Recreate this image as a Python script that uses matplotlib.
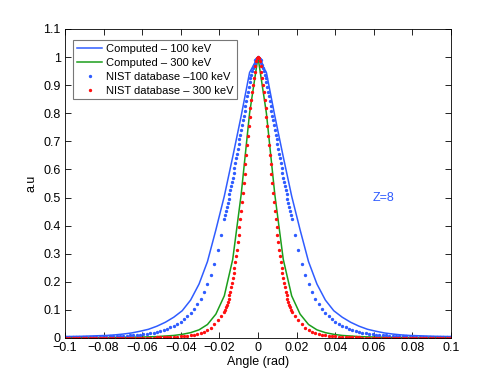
"""Angular distribution: computed vs NIST, Z=8."""

import numpy as np
import matplotlib

matplotlib.use("Agg")
import matplotlib.pyplot as plt

plt.rcParams["font.family"] = ["Liberation Sans", "DejaVu Sans"]

# computed curves, sampled every 0.25 deg (positive side, degrees)
calc_deg = [0.0, 0.25, 0.5, 0.75, 1.0, 1.25, 1.5, 1.75, 2.0, 2.25, 2.5, 2.75,
            3.0, 3.25, 3.5, 3.75, 4.0, 4.25, 4.5, 4.75, 5.0, 5.25, 5.5, 5.75]
calc_100 = [1.000, 0.945, 0.790, 0.645, 0.505, 0.385, 0.272, 0.192, 0.135,
            0.097, 0.074, 0.056, 0.042, 0.031, 0.024, 0.018, 0.014, 0.011,
            0.009, 0.008, 0.007, 0.006, 0.0055, 0.005]
calc_300 = [1.000, 0.800, 0.510, 0.280, 0.150, 0.085, 0.048, 0.029, 0.019,
            0.013, 0.009, 0.007, 0.005, 0.004, 0.0033, 0.0028, 0.0024, 0.002,
            0.0018, 0.0016, 0.0014, 0.0013, 0.0012, 0.0011]

# NIST points: 0.025 deg steps up to 1 deg, then 0.1 deg steps
nist_deg = [0.0, 0.025, 0.05, 0.075, 0.1, 0.125, 0.15, 0.175, 0.2, 0.225,
            0.25, 0.275, 0.3, 0.325, 0.35, 0.375, 0.4, 0.425, 0.45, 0.475,
            0.5, 0.525, 0.55, 0.575, 0.6, 0.625, 0.65, 0.675, 0.7, 0.725,
            0.75, 0.775, 0.8, 0.825, 0.85, 0.875, 0.9, 0.925, 0.95, 0.975,
            1.0, 1.1, 1.2, 1.3, 1.4, 1.5, 1.6, 1.7, 1.8, 1.9, 2.0, 2.1, 2.2,
            2.3, 2.4, 2.5, 2.6, 2.7, 2.8, 2.9, 3.0, 3.1, 3.2, 3.3, 3.4, 3.5,
            3.6, 3.7, 3.8, 3.9, 4.0, 4.1, 4.2, 4.3, 4.4, 4.5, 4.6, 4.7, 4.8,
            4.9, 5.0, 5.1, 5.2, 5.3, 5.4, 5.5, 5.6, 5.7]
nist_100 = [1.000, 0.998, 0.994, 0.988, 0.980, 0.971, 0.961, 0.950, 0.938,
            0.925, 0.911, 0.894, 0.877, 0.860, 0.843, 0.826, 0.809, 0.792,
            0.775, 0.758, 0.741, 0.724, 0.707, 0.690, 0.673, 0.656, 0.639,
            0.622, 0.605, 0.588, 0.571, 0.556, 0.541, 0.526, 0.511, 0.496,
            0.481, 0.466, 0.452, 0.438, 0.424,
            0.365, 0.312, 0.265, 0.226, 0.192, 0.164, 0.140, 0.120, 0.103,
            0.089, 0.077, 0.066, 0.057, 0.050, 0.044, 0.038, 0.033, 0.029,
            0.025, 0.022, 0.019, 0.017, 0.015, 0.013, 0.012, 0.011, 0.010,
            0.009, 0.008, 0.0075, 0.007, 0.0065, 0.006, 0.0055, 0.005,
            0.0047, 0.0044, 0.0041, 0.0038, 0.0035, 0.0033, 0.0031, 0.0029,
            0.0027, 0.0025, 0.0024, 0.0023]
nist_300 = [1.000, 0.996, 0.985, 0.968, 0.947, 0.925, 0.902, 0.876, 0.848,
            0.818, 0.786, 0.754, 0.720, 0.686, 0.652, 0.618, 0.584, 0.550,
            0.517, 0.484, 0.453, 0.423, 0.394, 0.366, 0.340, 0.315, 0.292,
            0.270, 0.249, 0.230, 0.212, 0.195, 0.180, 0.165, 0.152, 0.140,
            0.129, 0.118, 0.109, 0.100, 0.092,
            0.078, 0.063, 0.049, 0.037, 0.029, 0.023, 0.019, 0.015, 0.012,
            0.0098, 0.0080, 0.0066, 0.0055, 0.0046, 0.0039, 0.0033, 0.0028,
            0.0024, 0.0021, 0.0018, 0.0016, 0.0014, 0.0012, 0.0011, 0.0010,
            0.0009, 0.0008, 0.0008, 0.0007, 0.0007, 0.0006, 0.0006, 0.0005,
            0.0005, 0.0005, 0.0004, 0.0004, 0.0004, 0.0004, 0.0003, 0.0003,
            0.0003, 0.0003, 0.0003, 0.0003, 0.0002, 0.0002]

x_ticks = [-0.1, -0.08, -0.06, -0.04, -0.02, 0, 0.02, 0.04, 0.06, 0.08, 0.1]
y_ticks = [0, 0.1, 0.2, 0.3, 0.4, 0.5, 0.6, 0.7, 0.8, 0.9, 1.0, 1.1]

BLUE = "#2f5cff"
GREEN = "#1b9e1b"
RED = "#ff1010"
FS = 9


def mirrored(deg, values):
    rad = np.deg2rad(np.asarray(deg))
    vals = np.asarray(values)
    return (np.concatenate([-rad[:0:-1], rad]),
            np.concatenate([vals[:0:-1], vals]))


fig = plt.figure(figsize=(4.98, 3.81), dpi=100)
ax = fig.add_axes([0.1305, 0.1129, 0.7751, 0.811])

x, y = mirrored(calc_deg, calc_100)
ax.plot(x, y, color=BLUE, linewidth=1.1, label="Computed \u2013 100 keV")
x, y = mirrored(calc_deg, calc_300)
ax.plot(x, y, color=GREEN, linewidth=1.1, label="Computed \u2013 300 keV")
x, y = mirrored(nist_deg, nist_100)
ax.plot(x, y, linestyle="none", marker=".", markersize=2.8, color=BLUE,
        label="NIST database \u2013100 keV")
x, y = mirrored(nist_deg, nist_300)
ax.plot(x, y, linestyle="none", marker=".", markersize=2.8, color=RED,
        label="NIST database \u2013 300 keV")

ax.set_xlim(-0.1, 0.1)
ax.set_ylim(0, 1.1)
ax.set_xticks(x_ticks)
ax.set_xticklabels([("%g" % t).replace("-", "\u2212") for t in x_ticks])
ax.set_yticks(y_ticks)
ax.set_yticklabels(["%g" % t for t in y_ticks])
ax.tick_params(direction="in", top=True, right=True, length=4, width=0.6,
               labelsize=FS, pad=3)
for spine in ax.spines.values():
    spine.set_linewidth(0.6)

ax.set_xlabel("Angle (rad)", fontsize=FS, labelpad=1)
ax.set_ylabel("a.u", fontsize=FS, labelpad=4)
ax.text(0.0595, 0.5, "Z=8", color=BLUE, fontsize=FS, va="center")

leg = ax.legend(loc="upper left", bbox_to_anchor=(8 / 386, 1 - 11 / 309),
                borderaxespad=0, fontsize=8, handlelength=2.3,
                handletextpad=0.3, labelspacing=0.35, borderpad=0.35,
                fancybox=False, numpoints=1)
leg.get_frame().set_edgecolor("#555555")
leg.get_frame().set_linewidth(0.8)

fig.savefig("out.png", dpi=100)
